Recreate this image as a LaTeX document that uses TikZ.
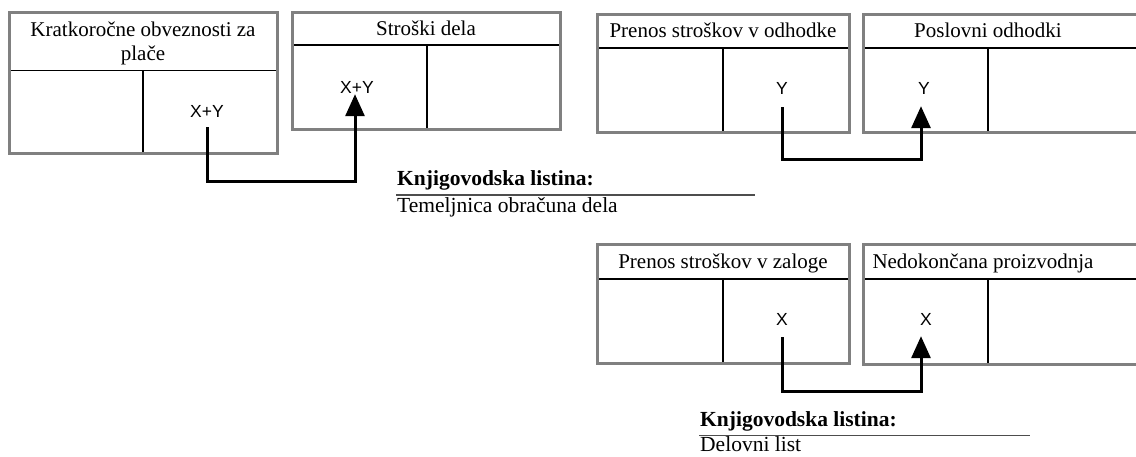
\documentclass[tikz,border=0pt]{standalone}
\usepackage{fontspec}
\setmainfont{Liberation Serif}
\setsansfont{Liberation Sans}
\usetikzlibrary{arrows.meta,calc}
\definecolor{kontogray}{HTML}{808080}
\definecolor{listgray}{HTML}{4D4D4D}

\begin{document}
\begin{tikzpicture}[x=1pt,y=-1pt,
    konto/.style={draw=kontogray, line width=3pt},
    tline/.style={draw=black, line width=1.1pt},
    naslov/.style={font=\fontsize{21}{24}\selectfont, inner sep=0pt, anchor=base},
    znesek/.style={font=\sffamily\fontsize{17.5}{20}\selectfont, inner sep=0pt, anchor=base},
    tok/.style={draw=black, line width=3pt, -{Triangle[length=22pt,width=19pt]}},
    listina/.style={font=\fontsize{21.5}{24}\selectfont, inner sep=0pt, anchor=base west},
    crta/.style={draw=listgray, line width=1.5pt}
]
    \clip (0,0) rectangle (1136,457);

    % T-accounts: inner lines first, grey frame on top
    \draw[tline] (9,70.5) -- (277,70.5) (143,70.5) -- (143,154);
    \draw[konto] (9,13) rectangle (277,154);
    \node[naslov, anchor=center, align=center] (kob) at (143,43) {Kratkoročne obveznosti za\\plače};

    \draw[tline] (292,45) -- (560,45) (427,45) -- (427,130);
    \draw[konto] (292,13) rectangle (560,130);
    \node[naslov] (sd) at (426,36) {Stroški dela};

    \draw[tline] (597,48) -- (849,48) (723,48) -- (723,133);
    \draw[konto] (597,15) rectangle (849,133);
    \node[naslov] (pso) at (723,38) {Prenos stroškov v odhodke};

    \draw[tline] (863,48) -- (1160,48) (988,48) -- (988,133);
    \draw[konto] (863,15) rectangle (1160,133);
    \node[naslov] (po) at (988,38) {Poslovni odhodki};

    \draw[tline] (597,279) -- (849,279) (723,279) -- (723,363);
    \draw[konto] (597,245) rectangle (849,363);
    \node[naslov] (psz) at (723,269) {Prenos stroškov v zaloge};

    \draw[tline] (863,279) -- (1160,279) (988,279) -- (988,364);
    \draw[konto] (863,245) rectangle (1160,364);
    \node[naslov] (np) at (983,269) {Nedokončana proizvodnja};

    % amounts
    \node[znesek] (kobZ) at (207,118) {X+Y};
    \node[znesek] (sdZ) at (357,94) {X+Y};
    \node[znesek] (psoZ) at (782,95) {Y};
    \node[znesek] (poZ) at (924,95) {Y};
    \node[znesek] (pszZ) at (782,325) {X};
    \node[znesek] (npZ) at (926,325) {X};

    % flows
    \coordinate (kobA) at ([yshift=-9pt]kobZ.south);
    \coordinate (psoA) at ([yshift=-12pt]psoZ.south);
    \coordinate (poA) at ([xshift=-3pt,yshift=-11pt]poZ.south);
    \coordinate (pszA) at ([yshift=-12pt]pszZ.south);
    \coordinate (npA) at ([xshift=-5pt,yshift=-11pt]npZ.south);
    \draw[tok] (kobA) -- ++(0,54) -| ([xshift=-2pt]sdZ.south);
    \draw[tok] (psoA) -- ++(0,52) -| (poA);
    \draw[tok] (pszA) -- ++(0,54) -| (npA);

    % documents
    \node[listina] (kl1) at (397,186) {\bfseries Knjigovodska listina:};
    \draw[crta] (396,195) -- (755,195);
    \node[listina] (tod) at (397,212.5) {Temeljnica obračuna dela};

    \node[listina] (kl2) at (700,426) {\bfseries Knjigovodska listina:};
    \draw[crta] (699,435.5) -- (1030,435.5);
    \node[listina] (dl) at (700,451) {Delovni list};
\end{tikzpicture}
\end{document}
